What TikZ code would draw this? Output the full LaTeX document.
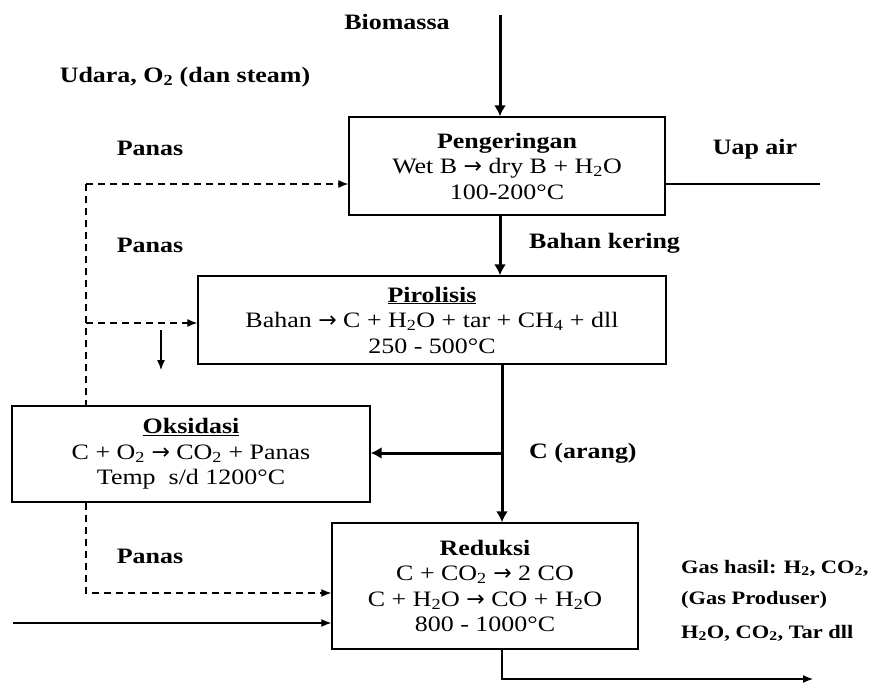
\documentclass[tikz,border=0pt]{standalone}
\usepackage{fontspec}
\setmainfont{Liberation Serif}[FakeStretch=1.18]
\newfontfamily\arrowfont{DejaVu Sans}
\newcommand{\yields}{{\arrowfont →}}
\usepackage{tikz}
\usetikzlibrary{arrows.meta}

\begin{document}
\begin{tikzpicture}[x=1pt,y=-1pt,>={Latex[length=10pt,width=8pt]},
  proc node/.style={draw,line width=1.4pt,align=center,inner sep=0pt,
    font=\fontsize{22}{25.5}\selectfont},
  text node/.style={inner sep=1pt,font=\fontsize{22}{25.5}\selectfont\bfseries},
  gas node/.style={inner sep=1pt,anchor=west,font=\fontsize{19}{22}\selectfont\bfseries},
  main line/.style={line width=3pt,>={Latex[length=11pt,width=12pt]}},
  thin line/.style={line width=1.3pt},
  heat line/.style={line width=1.2pt,dash pattern=on 7pt off 5pt}]
  \useasboundingbox (0,0) rectangle (877,682);

  % process boxes
  \node[proc node,minimum width=316pt,minimum height=98pt] (1) at (507,166)
    {\textbf{Pengeringan}\\ Wet B \yields{} dry B + H\textsubscript{2}O\\ 100-200°C};
  \node[proc node,minimum width=468pt,minimum height=88pt] (2) at (432,320)
    {\underline{\textbf{Pirolisis}}\\ Bahan \yields{} C + H\textsubscript{2}O + tar + CH\textsubscript{4} + dll\\ 250 - 500°C};
  \node[proc node,minimum width=358pt,minimum height=96pt] (3) at (191,454)
    {\underline{\textbf{Oksidasi}}\\ C + O\textsubscript{2} \yields{} CO\textsubscript{2} + Panas\\ Temp~ s/d 1200°C};
  \node[proc node,minimum width=306pt,minimum height=126pt] (4) at (485,586)
    {\textbf{Reduksi}\\ C + CO\textsubscript{2} \yields{} 2 CO\\ C + H\textsubscript{2}O \yields{} CO + H\textsubscript{2}O\\ 800 - 1000°C};

  % labels
  \node[text node] (bio) at (397,22) {Biomassa};
  \node[text node] (udara) at (185,77) {Udara, O\textsubscript{2} (dan steam)};
  \node[text node] (panas1) at (150,148) {Panas};
  \node[text node] (panas2) at (150,245) {Panas};
  \node[text node] (panas3) at (150,556) {Panas};
  \node[text node] (uap) at (755,149) {Uap air};
  \node[text node,anchor=west] (kering) at (528,243) {Bahan kering};
  \node[text node,anchor=west] (arang) at (528,453) {C (arang)};
  \node[gas node] (gas1) at (680,568) {Gas hasil: H\textsubscript{2}, CO\textsubscript{2},};
  \node[gas node] (gas2) at (680,600) {(Gas Produser)};
  \node[gas node] (gas3) at (680,633) {H\textsubscript{2}O, CO\textsubscript{2}, Tar dll};

  \coordinate (bin) at (500,15);
  \coordinate (uapout) at (820,184);
  \coordinate (h1) at (86,184);
  \coordinate (h2) at (86,323);
  \coordinate (h3) at (86,593);
  \coordinate (drop1) at (161,330);
  \coordinate (drop2) at (161,370);
  \coordinate (udin) at (13,623);
  \coordinate (split) at (502,453);
  \coordinate (gasout) at (813,679);

  % material flow
  \draw[main line,->] (bin) -- (bin |- 1.north);
  \draw[main line,->] (1.south -| bin) -- (2.north -| bin);
  \draw[main line,->] (2.south -| split) -- (4.north -| split);
  \draw[main line,->] (split) -- (3.east |- split);
  \draw[thin line] (1.east |- uapout) -- (uapout);
  \draw[thin line,->] (udin) -- (4.west |- udin);
  \draw[thin line,->] (4.south -| split) |- (gasout);

  % heat
  \draw[heat line,->] (h1) -- (1.west |- h1);
  \draw[heat line] (h1) -- (3.north -| h1);
  \draw[heat line,->] (h2) -- (2.west |- h2);
  \draw[thin line,->] (drop1) -- (drop2);
  \draw[heat line,->] (3.south -| h3) -- (h3) -- (4.west |- h3);
\end{tikzpicture}
\end{document}
